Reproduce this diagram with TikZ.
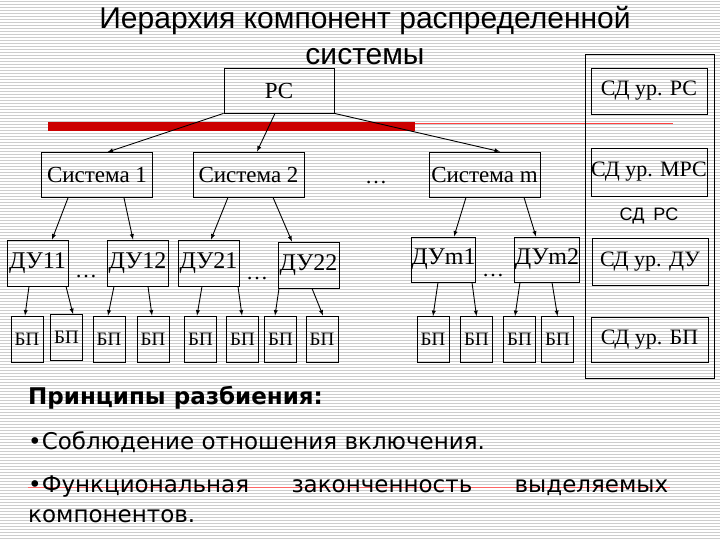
\documentclass[tikz,border=0pt]{standalone}
\usepackage{fontspec}
\setmainfont{Liberation Serif}
\setsansfont{Liberation Sans}
\newfontfamily\verd{DejaVu Sans}
\usepackage{tikz}
\definecolor{barred}{RGB}{204,0,0}
\definecolor{stripe}{RGB}{205,205,205}

\tikzset{
  box/.style={draw, line width=0.8pt, inner sep=0pt, font=\fontsize{23}{23}\selectfont},
  sysbox/.style={box, minimum width=111pt, minimum height=45pt},
  dubox/.style={box, minimum width=61pt, minimum height=46pt, font=\fontsize{24}{24}\selectfont},
  bpbox/.style={box, minimum width=32pt, minimum height=46pt, font=\fontsize{19}{19}\selectfont},
  sdbox/.style={box, minimum width=116pt, minimum height=46pt, font=\fontsize{22}{22}\selectfont},
  link/.style={-latex, line width=0.9pt},
  gap/.style={inner sep=0pt, font=\fontsize{22}{22}\selectfont},
  txt/.style={anchor=west, inner sep=0pt, font=\verd\fontsize{23}{23}\selectfont}
}

\begin{document}
\begin{tikzpicture}[x=1pt, y=-1pt]
\useasboundingbox (0,0) rectangle (720,540);
% lined background
\foreach \yy in {1.5,4.5,...,540} \draw[stripe, line width=1pt] (0,\yy) -- (720,\yy);

% title
\node[font=\sffamily\fontsize{30}{30}\selectfont] (title1) at (365,20) {Иерархия компонент распределенной};
\node[font=\sffamily\fontsize{30}{30}\selectfont] (title2) at (365,57) {системы};

% red rule
\fill[barred] (48,122.5) rectangle (415,131.5);
\draw[red!75, line width=0.8pt] (415,123) -- (673,123);

% tree
\node[box, minimum width=110pt, minimum height=45pt] (rs) at (279,90.5) {РС};
\node[sysbox] (sys1) at (97,175) {Система 1};
\node[sysbox] (sys2) at (248.5,174.5) {Система 2};
\node[sysbox] (sysm) at (484.5,174.5) {Система m};
\node[gap] (gapS) at (376,183) {\dots};

\node[dubox] (du11) at (37.5,263) {ДУ11};
\node[dubox] (du12) at (137.5,263) {ДУ12};
\node[dubox] (du21) at (208.5,263) {ДУ21};
\node[dubox] (du22) at (308.5,265) {ДУ22};
\node[dubox, minimum height=45pt] (dum1) at (443.5,259.5) {ДУm1};
\node[dubox, minimum height=45pt] (dum2) at (547,259.5) {ДУm2};
\node[gap] (gap1) at (86,277) {\dots};
\node[gap] (gap2) at (257,279) {\dots};
\node[gap] (gapm) at (493,276) {\dots};

\node[bpbox] (bp1) at (27,339) {БП};
\node[bpbox] (bp2) at (66.5,337.5) {БП};
\node[bpbox] (bp3) at (109,339) {БП};
\node[bpbox] (bp4) at (153,339) {БП};
\node[bpbox] (bp5) at (200.5,339) {БП};
\node[bpbox] (bp6) at (242.5,339) {БП};
\node[bpbox] (bp7) at (280.5,339) {БП};
\node[bpbox] (bp8) at (322,339) {БП};
\node[bpbox] (bp9) at (433,339.5) {БП};
\node[bpbox] (bp10) at (476.5,339.5) {БП};
\node[bpbox] (bp11) at (519.5,339.5) {БП};
\node[bpbox] (bp12) at (557.5,339.5) {БП};

\draw[link] (rs.south west) -- ([xshift=10.5pt]sys1.north);
\draw[link] ([xshift=-4pt]rs.south) -- ([xshift=8.5pt]sys2.north);
\draw[link] (rs.south east) -- ([xshift=15.5pt]sysm.north);

\draw[link] ([xshift=-29pt]sys1.south) -- ([xshift=14.5pt]du11.north);
\draw[link] ([xshift=27pt]sys1.south) -- ([xshift=-4.5pt]du12.north);
\draw[link] ([xshift=-20.5pt]sys2.south) -- ([xshift=2.5pt]du21.north);
\draw[link] ([xshift=24.5pt]sys2.south) -- ([xshift=-16.5pt]du22.north);
\draw[link] ([xshift=-18.5pt]sysm.south) -- ([xshift=10.5pt]dum1.north);
\draw[link] ([xshift=39.5pt]sysm.south) -- ([xshift=-11pt]dum2.north);

\draw[link] ([xshift=-8.5pt]du11.south) -- ([xshift=-2pt]bp1.north);
\draw[link] ([xshift=28.5pt]du11.south) -- ([xshift=6.5pt]bp2.north);
\draw[link] ([xshift=-23.5pt]du12.south) -- ([xshift=-1pt]bp3.north);
\draw[link] ([xshift=10.5pt]du12.south) -- ([xshift=-1pt]bp4.north);
\draw[link] ([xshift=-6.5pt]du21.south) -- ([xshift=-3.5pt]bp5.north);
\draw[link] ([xshift=29.5pt]du21.south) -- ([xshift=-0.5pt]bp6.north);
\draw[link] ([xshift=-29.5pt]du22.south) -- ([xshift=-5.5pt]bp7.north);
\draw[link] ([xshift=3.5pt]du22.south) -- ([xshift=1pt]bp8.north);
\draw[link] ([xshift=-5.5pt]dum1.south) -- (bp9.north);
\draw[link] ([xshift=28.5pt]dum1.south) -- (bp10.north);
\draw[link] ([xshift=-27pt]dum2.south) -- ([xshift=-4.5pt]bp11.north);
\draw[link] ([xshift=5pt]dum2.south) -- (bp12.north);

% data levels panel
\node[draw, line width=0.8pt, minimum width=129pt, minimum height=324pt] (panel) at (649.5,216) {};
\node[sdbox] (sdrs) at (649,91) {СД ур. РС};
\node[sdbox, minimum height=48pt] (sdmrs) at (649,172) {СД ур. МРС};
\node[font=\sffamily\fontsize{18}{18}\selectfont] (sdlabel) at (649,216) {СД\enspace РС};
\node[sdbox, minimum height=47pt] (sddu) at (650,261.5) {СД ур. ДУ};
\node[sdbox, minimum width=117pt, minimum height=45pt] (sdbp) at (649.5,339.5) {СД ур. БП};

% principles
\draw[red!60, line width=0.6pt] (28,487) -- (670,487);
\node[txt, font=\verd\bfseries\fontsize{23}{23}\selectfont] (head) at (28,398) {Принципы разбиения:};
\node[txt] (item1) at (28,442) {•Соблюдение отношения включения.};
\node[txt] (item2) at (28,487) {\makebox[640pt][s]{•Функциональная\hfill законченность\hfill выделяемых}};
\node[txt] (item2b) at (28,516) {компонентов.};
\end{tikzpicture}
\end{document}
